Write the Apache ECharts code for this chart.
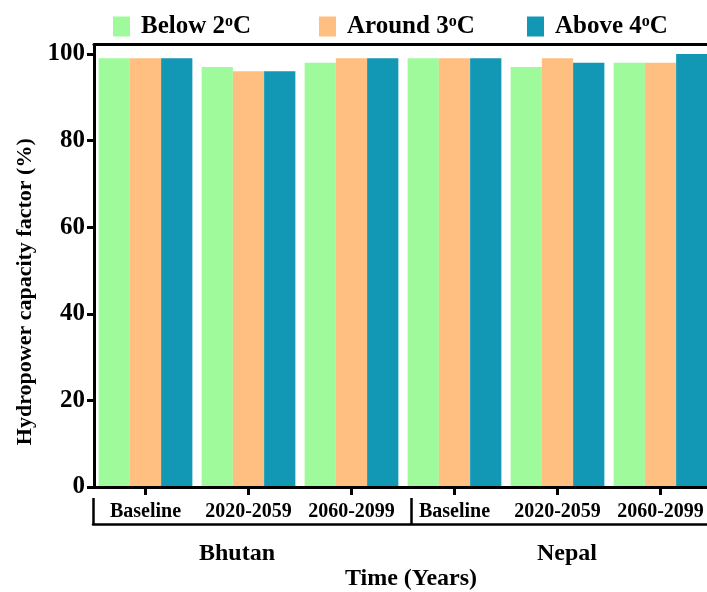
<!DOCTYPE html>
<html>
<head>
<meta charset="utf-8">
<script src="https://cdn.jsdelivr.net/npm/echarts@6/dist/echarts.min.js"></script>
<style>
html,body{margin:0;padding:0;background:#fff;overflow:hidden;}
#chart{width:760px;height:592px;}
</style>
</head>
<body>
<div id="chart"></div>
<script>
const categories = ['Baseline', '2020-2059', '2060-2099', 'Baseline', '2020-2059', '2060-2099'];
const countries = ['Bhutan', 'Nepal'];
const seriesNames = ['Below 2', 'Around 3', 'Above 4'];
const below2 = [99, 97, 98, 99, 97, 98];
const around3 = [99, 96, 99, 99, 99, 98];
const above4 = [99, 96, 99, 99, 98, 100];
const yTicks = [0, 20, 40, 60, 80, 100];

const FONT = '"Liberation Serif", "Times New Roman", serif';
const colors = ['#9FFA9B', '#FFBF80', '#1298B4'];
const seriesData = [below2, around3, above4];

const chart = echarts.init(document.getElementById('chart'));

const legendLefts = [113, 319, 527];
const legends = seriesNames.map((n, i) => ({
  data: [n],
  left: legendLefts[i],
  top: 14,
  padding: 0,
  icon: 'rect',
  itemWidth: 17,
  itemHeight: 20,
  selectedMode: false,
  formatter: name => name + '{sup|o}C',
  textStyle: {
    fontFamily: FONT, fontWeight: 'bold', fontSize: 25, color: '#000',
    padding: [0, 0, 0, 6],
    rich: {
      sup: { fontFamily: FONT, fontWeight: 'bold', fontSize: 16, color: '#000', verticalAlign: 'top', lineHeight: 14 }
    }
  }
}));

const option = {
  animation: false,
  backgroundColor: '#fff',
  legend: legends,
  grid: [
    { left: 94, top: 44.5, width: 618, height: 442.5 },
    { left: 93, top: 499, width: 636, height: 26 }
  ],
  xAxis: [
    {
      type: 'category', gridIndex: 0, position: 'bottom', data: categories, z: 5,
      axisLine: { lineStyle: { color: '#000', width: 3 } },
      axisTick: { show: true, alignWithLabel: true, length: 8, lineStyle: { color: '#000', width: 3 } },
      axisLabel: { interval: 0, margin: 15, fontFamily: FONT, fontWeight: 'bold', fontSize: 20, color: '#000' },
      splitLine: { show: false }
    },
    {
      type: 'category', gridIndex: 1, position: 'bottom', data: countries,
      axisLine: { lineStyle: { color: '#000', width: 2.5 } },
      axisTick: { show: true, inside: true, length: 26, interval: 0, lineStyle: { color: '#000', width: 2.5 } },
      axisLabel: {
        interval: 0, margin: 18,
        formatter: v => v === 'Bhutan' ? '{a|' + v + '}' : '{b|' + v + '}',
        rich: {
          a: { fontFamily: FONT, fontWeight: 'bold', fontSize: 24, color: '#000', padding: [0, 30, 0, 0] },
          b: { fontFamily: FONT, fontWeight: 'bold', fontSize: 24, color: '#000', padding: [0, 6, 0, 0] }
        }
      },
      name: 'Time (Years)', nameLocation: 'middle', nameGap: 41,
      nameTextStyle: { fontFamily: FONT, fontWeight: 'bold', fontSize: 24, color: '#000' }
    },
    {
      type: 'category', gridIndex: 0, position: 'top', data: categories, z: 5,
      axisLine: { lineStyle: { color: '#000', width: 3 } },
      axisTick: { show: false }, axisLabel: { show: false }
    }
  ],
  yAxis: [
    {
      type: 'value', gridIndex: 0, min: 0, max: 102.2, interval: 20, z: 5,
      axisLine: { show: true, lineStyle: { color: '#000', width: 3 } },
      axisTick: { show: true, length: 7, customValues: yTicks, lineStyle: { color: '#000', width: 3 } },
      axisLabel: { margin: 9, customValues: yTicks, fontFamily: FONT, fontWeight: 'bold', fontSize: 25, color: '#000' },
      splitLine: { show: false },
      name: 'Hydropower capacity factor (%)', nameLocation: 'middle', nameGap: 56,
      nameTextStyle: { fontFamily: FONT, fontWeight: 'bold', fontSize: 22, color: '#000', padding: [0, 52, 0, 0] }
    },
    { type: 'value', gridIndex: 1, show: false, min: 0, max: 1 }
  ],
  series: seriesNames.map((n, i) => ({
    name: n, type: 'bar', xAxisIndex: 0, yAxisIndex: 0,
    data: seriesData[i],
    barGap: '0%', barCategoryGap: '9%',
    itemStyle: { color: colors[i] }
  }))
};
chart.setOption(option);
</script>
</body>
</html>
